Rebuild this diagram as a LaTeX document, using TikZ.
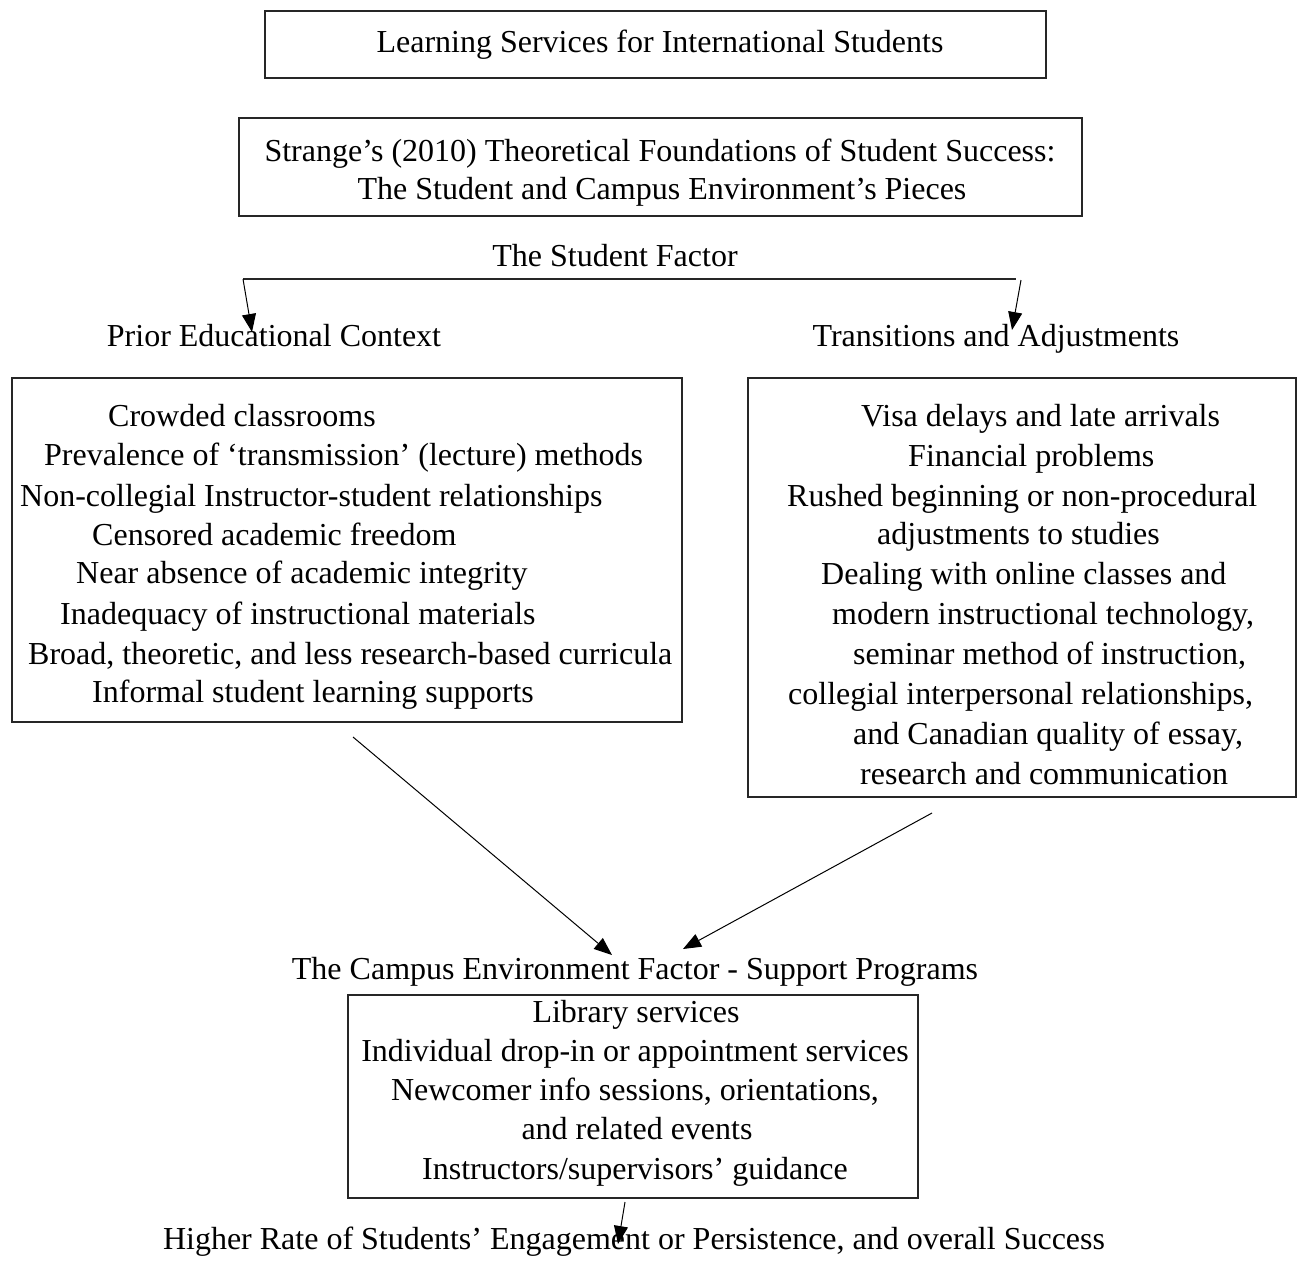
\documentclass[tikz,border=0pt]{standalone}
\usepackage{fontspec}
\setmainfont{Liberation Serif}
\usetikzlibrary{arrows.meta}
\begin{document}
\begin{tikzpicture}[x=1pt,y=-1pt,
  txt/.style={inner sep=0pt, font=\fontsize{32}{39}\selectfont, anchor=base},
  txtl/.style={txt, anchor=base west},
  frame/.style={draw=black!85, line width=1.3pt, rectangle, inner sep=0pt},
  conn/.style={line width=1pt, -{Triangle[length=18pt,width=14pt]}},
]
\useasboundingbox (0,0) rectangle (1297,1267);

% boxes
\node[frame, minimum width=781pt, minimum height=67pt] (box1) at (655.5,44.5) {};
\node[frame, minimum width=843pt, minimum height=98pt] (box2) at (660.5,167) {};
\node[frame, minimum width=670pt, minimum height=344pt] (boxL) at (347,550) {};
\node[frame, minimum width=548pt, minimum height=419pt] (boxR) at (1022,587.5) {};
\node[frame, minimum width=570pt, minimum height=203pt] (boxB) at (633,1096.5) {};

% top texts
\node[txt] (t1) at (660,52) {Learning Services for International Students};
\node[txt] (t2a) at (660,161) {Strange’s (2010) Theoretical Foundations of Student Success:};
\node[txt] (t2b) at (662,199) {The Student and Campus Environment’s Pieces};
\node[txt] (sf) at (615,266) {The Student Factor};
\node[txt] (pec) at (274,346) {Prior Educational Context};
\node[txt] (ta) at (996,346) {Transitions and Adjustments};

% left box lines
\node[txtl] (l1) at (108,426) {Crowded classrooms};
\node[txtl] (l2) at (44,465) {Prevalence of ‘transmission’ (lecture) methods};
\node[txtl] (l3) at (20,506) {Non-collegial Instructor-student relationships};
\node[txtl] (l4) at (92,545) {Censored academic freedom};
\node[txtl] (l5) at (76,583) {Near absence of academic integrity};
\node[txtl] (l6) at (60,624) {Inadequacy of instructional materials};
\node[txtl] (l7) at (28,664) {Broad, theoretic, and less research-based curricula};
\node[txtl] (l8) at (92,702) {Informal student learning supports};

% right box lines
\node[txtl] (r1) at (861,426) {Visa delays and late arrivals};
\node[txtl] (r2) at (908,466) {Financial problems};
\node[txtl] (r3) at (787,506) {Rushed beginning or non-procedural};
\node[txtl] (r4) at (877,544) {adjustments to studies};
\node[txtl] (r5) at (821,584) {Dealing with online classes and};
\node[txtl] (r6) at (832,624) {modern instructional technology,};
\node[txtl] (r7) at (853,664) {seminar method of instruction,};
\node[txtl] (r8) at (788,704) {collegial interpersonal relationships,};
\node[txtl] (r9) at (853,744) {and Canadian quality of essay,};
\node[txtl] (r10) at (860,784) {research and communication};

% campus environment
\node[txt] (ce) at (635,979) {The Campus Environment Factor - Support Programs};
\node[txt] (b1) at (636,1022) {Library services};
\node[txt] (b2) at (635,1061) {Individual drop-in or appointment services};
\node[txt] (b3) at (635,1100) {Newcomer info sessions, orientations,};
\node[txt] (b4) at (637,1139) {and related events};
\node[txt] (b5) at (635,1179) {Instructors/supervisors’ guidance};
\node[txt] (hr) at (634,1249) {Higher Rate of Students’ Engagement or Persistence, and overall Success};

% connector coordinates
\coordinate (sfL) at (243,279);
\coordinate (sfE) at (1016,279);
\coordinate (sfR) at (1021,280);
\coordinate (pecT) at (252,332);
\coordinate (taT) at (1012,330);
\coordinate (lS) at (353,737);
\coordinate (lE) at (612,955);
\coordinate (rS) at (932,813);
\coordinate (rE) at (683,949);
\coordinate (bS) at (625,1202);
\coordinate (bE) at (618,1244);

\draw[line width=1.3pt, draw=black!85] (sfL) -- (sfE);
\draw[conn] (sfL) -- (pecT);
\draw[conn] (sfR) -- (taT);
\draw[conn] (lS) -- (lE);
\draw[conn] (rS) -- (rE);
\draw[conn] (bS) -- (bE);
\end{tikzpicture}
\end{document}
